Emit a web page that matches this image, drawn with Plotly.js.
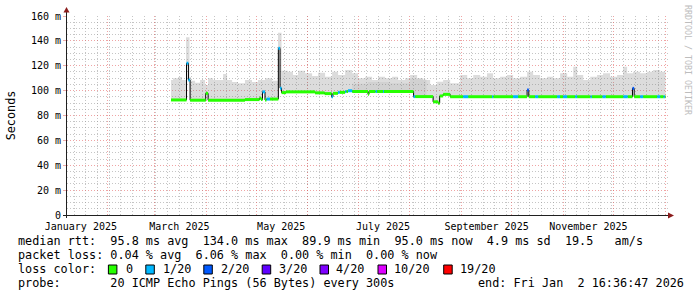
<!DOCTYPE html>
<html><head><meta charset="utf-8">
<script src="https://cdn.plot.ly/plotly-3.0.1.min.js"></script>
<style>html,body{margin:0;padding:0;background:#fff;}#chart{width:697px;height:297px;}</style>
</head><body><div id="chart"></div>
<script>
// ---- median RTT (ms) at change points, with lost pings out of 20 ----
const medianTimes = [
 '2025-03-11 00:00','2025-03-20 07:00','2025-03-21 10:00','2025-03-22 10:00','2025-03-31 19:00','2025-04-02 05:00',
 '2025-04-24 07:00','2025-05-03 00:00','2025-05-03 22:00','2025-05-04 19:00','2025-05-06 07:00','2025-05-07 05:00',
 '2025-05-09 07:00','2025-05-14 07:00','2025-05-15 07:00','2025-05-16 05:00','2025-05-18 22:00','2025-06-05 07:00',
 '2025-06-11 00:00','2025-06-15 05:00','2025-06-16 00:00','2025-06-19 00:00','2025-06-20 00:00','2025-06-23 07:00',
 '2025-06-24 00:00','2025-06-25 00:00','2025-06-27 12:00','2025-07-07 00:00','2025-07-07 14:00','2025-07-11 14:00',
 '2025-07-12 10:00','2025-07-16 00:00','2025-07-16 14:00','2025-08-03 07:00','2025-08-04 05:00','2025-08-15 00:00',
 '2025-08-18 00:00','2025-08-18 22:00','2025-08-21 00:00','2025-08-25 05:00','2025-09-02 00:00','2025-09-05 00:00',
 '2025-09-19 07:00','2025-09-20 00:00','2025-10-01 22:00','2025-10-04 22:00','2025-10-10 07:00','2025-10-11 07:00',
 '2025-10-15 02:00','2025-10-16 22:00','2025-10-28 07:00','2025-10-30 00:00','2025-10-31 22:00','2025-11-03 07:00',
 '2025-11-08 02:00','2025-11-09 07:00','2025-11-17 07:00','2025-11-18 02:00','2025-11-24 12:00','2025-11-26 10:00',
 '2025-12-07 00:00','2025-12-09 12:00','2025-12-12 10:00','2025-12-13 10:00','2025-12-17 00:00','2025-12-18 19:00',
 '2025-12-27 05:00','2025-12-29 00:00','2025-12-31 02:00','2025-12-31 20:00','2026-01-01 05:00'];
const medianMs = [
 92.5,122.0,108.5,92.3,97.8,92.3,
 92.8,94.0,92.8,99.0,92.5,93.2,
 93.2,134.0,102.0,98.4,99.0,98.2,
 97.6,95.0,97.8,98.6,98.6,99.3,
 99.3,99.9,99.3,97.0,99.3,99.3,
 99.3,99.3,99.3,95.2,95.2,91.0,
 89.9,95.7,97.0,95.1,95.1,95.1,
 95.1,95.1,95.1,95.1,100.5,95.1,
 95.1,95.1,95.1,95.1,95.1,95.1,
 95.1,95.1,95.1,95.1,95.1,95.1,
 95.1,95.1,101.8,95.1,95.1,95.1,
 95.1,95.1,95.0,95.0,95.0];
const medianLoss = [
 0,1,1,0,0,0,
 0,0,0,1,0,1,
 0,1,1,0,0,0,
 0,1,0,1,0,1,
 0,1,0,0,0,1,
 0,1,0,1,0,0,
 0,0,0,0,1,0,
 1,0,1,0,2,0,
 1,0,1,0,1,0,
 1,0,1,0,1,0,
 1,0,2,0,1,0,
 1,0,1,0,0];

// ---- smoke (spread of the 20 pings): upper edge, ms ----
const smokeTimes = [
 '2025-03-11 00:00','2025-03-12 05:00','2025-03-15 05:00','2025-03-17 14:00','2025-03-20 00:00','2025-03-22 02:00',
 '2025-03-23 00:00','2025-03-25 10:00','2025-03-28 10:00','2025-03-31 10:00','2025-04-02 05:00','2025-04-05 05:00',
 '2025-04-11 05:00','2025-04-13 14:00','2025-04-16 14:00','2025-04-20 02:00','2025-04-24 07:00','2025-04-28 12:00',
 '2025-05-02 02:00','2025-05-06 07:00','2025-05-10 12:00','2025-05-14 02:00','2025-05-16 05:00','2025-05-20 02:00',
 '2025-05-23 02:00','2025-05-26 02:00','2025-05-30 07:00','2025-06-03 12:00','2025-06-07 02:00','2025-06-11 07:00',
 '2025-06-15 12:00','2025-06-19 02:00','2025-06-23 07:00','2025-06-27 12:00','2025-07-01 02:00','2025-07-05 07:00',
 '2025-07-09 10:00','2025-07-13 00:00','2025-07-17 05:00','2025-07-21 10:00','2025-07-25 00:00','2025-07-29 05:00',
 '2025-08-01 05:00','2025-08-05 10:00','2025-08-09 00:00','2025-08-13 05:00','2025-08-17 10:00','2025-08-21 00:00',
 '2025-08-25 05:00','2025-08-31 05:00','2025-09-04 10:00','2025-09-08 00:00','2025-09-12 05:00','2025-09-16 07:00',
 '2025-09-19 22:00','2025-09-24 02:00','2025-09-28 07:00','2025-10-01 22:00','2025-10-06 02:00','2025-10-10 07:00',
 '2025-10-13 22:00','2025-10-18 02:00','2025-10-22 07:00','2025-10-25 22:00','2025-10-30 02:00','2025-11-03 07:00',
 '2025-11-06 22:00','2025-11-09 07:00','2025-11-12 22:00','2025-11-17 02:00','2025-11-21 05:00','2025-11-24 19:00',
 '2025-11-29 00:00','2025-12-03 05:00','2025-12-06 19:00','2025-12-09 05:00','2025-12-12 19:00','2025-12-17 00:00',
 '2025-12-21 05:00','2025-12-24 19:00','2025-12-29 00:00','2026-01-01 05:00'];
const smokeTopMs = [
 108.5,110.0,111.0,108.5,143.0,111.0,
 108.0,106.4,108.5,104.5,110.0,108.5,
 113.4,108.5,107.0,105.9,108.5,107.0,
 108.5,110.0,108.0,146.6,116.0,115.2,
 112.6,116.0,114.0,111.8,114.4,111.2,
 115.2,112.6,116.6,114.0,110.0,111.2,
 108.5,111.2,110.0,111.2,108.5,110.0,
 112.6,110.0,108.5,104.5,107.2,108.5,
 105.9,112.6,110.0,112.6,111.2,113.9,
 110.0,111.2,112.6,110.0,111.2,115.2,
 112.6,110.0,111.2,110.0,113.9,111.2,
 119.2,112.6,108.5,111.2,112.6,113.9,
 111.2,112.6,119.2,113.9,115.2,113.9,
 115.2,116.6,115.2,115.2];

// ---- denser core of the smoke (summer) ----
const coreTimes = ['2025-06-27 12:00','2025-07-07 00:00','2025-07-20 00:00','2025-08-01 05:00','2025-08-03 07:00','2025-08-11 00:00'];
const coreLowMs = [99.3,99.3,99.3,99.3,95.2,95.2];
const coreHighMs = [105.5,107.0,106.0,109.5,109.5,109.5];

// ---- axes ----
const monthStarts = ['2025-02-01','2025-03-01','2025-04-01','2025-05-01','2025-06-01','2025-07-01',
 '2025-08-01','2025-09-01','2025-10-01','2025-11-01','2025-12-01','2026-01-01'];
const xLabelTimes = ['2025-01-16','2025-03-16','2025-05-16','2025-07-16','2025-09-16','2025-11-16'];
const xLabelTexts = ['January 2025','March 2025','May 2025','July 2025','September 2025','November 2025'];
const yTickVals = [0,20,40,60,80,100,120,140,160];
const yTickTexts = ['0','20 m','40 m','60 m','80 m','100 m','120 m','140 m','160 m'];

// ---- loss legend ----
const lossLevels = [0,1,2,3,4,10,19];
const lossLabels = ['0','1/20','2/20','3/20','4/20','10/20','19/20'];
const lossColors = ['#26ff00','#00b8ff','#0059ff','#5e00ff','#7e00ff','#dd00ff','#ff0000'];

const statLine1 = 'median rtt:  95.8 ms avg  134.0 ms max  89.9 ms min  95.0 ms now  4.9 ms sd  19.5   am/s';
const statLine2 = 'packet loss: 0.04 % avg  6.06 % max  0.00 % min  0.00 % now';
const probeLine = 'probe:       20 ICMP Echo Pings (56 Bytes) every 300s';
const endLine = 'end: Fri Jan  2 16:36:47 2026';

// ---------------------------------------------------------------
const xRange = ['2025-01-07 16:36:47','2026-01-02 16:36:47'];
const ML = 67, MT = 16, PW = 601, PH = 199;
const px = v => (v - ML) / PW;
const py = v => (MT + PH - v) / PH;
const nb = s => s.replace(/ /g, '\u00a0');
const MONO = 'DejaVu Sans Mono';

const traces = [];
traces.push({x: medianTimes, y: medianMs, mode: 'lines', line: {width: 0, shape: 'hv'}, hoverinfo: 'skip'});
traces.push({x: smokeTimes, y: smokeTopMs, mode: 'lines', line: {width: 0, shape: 'hv'},
  fill: 'tonexty', fillcolor: 'rgba(120,120,120,0.26)', hoverinfo: 'skip'});
traces.push({x: coreTimes, y: coreLowMs, mode: 'lines', line: {width: 0, shape: 'hv'}, hoverinfo: 'skip'});
traces.push({x: coreTimes, y: coreHighMs, mode: 'lines', line: {width: 0, shape: 'hv'},
  fill: 'tonexty', fillcolor: 'rgba(120,120,120,0.10)', hoverinfo: 'skip'});
traces.push({x: medianTimes, y: medianMs, mode: 'lines', line: {color: '#000000', width: 1, shape: 'hv'}, hoverinfo: 'skip'});
// loss-coloured median segments live on the overlaying label axis (same range), drawn on top
lossLevels.forEach((lv, k) => {
  const xs = [], ys = [];
  for (let i = 0; i < medianTimes.length - 1; i++) {
    if (medianLoss[i] === lv) {
      xs.push(medianTimes[i], medianTimes[i + 1], null);
      ys.push(medianMs[i], medianMs[i], null);
    }
  }
  if (xs.length) traces.push({x: xs, y: ys, xaxis: 'x2', yaxis: 'y', mode: 'lines',
    line: {color: lossColors[k], width: 3}, hoverinfo: 'skip'});
});

// minor grid positions
const weekly = [];
for (let d = Date.UTC(2025, 0, 12); d < Date.UTC(2026, 0, 2); d += 7 * 86400000) {
  weekly.push(new Date(d).toISOString().slice(0, 10));
}
const fives = [];
for (let v = 0; v <= 160; v += 5) if (v % 20) fives.push(v);

const majorGrid = 'rgba(225,90,90,0.55)';
const minorGrid = 'rgba(150,150,150,0.55)';

const shapes = [];
const annotations = [];
shapes.push({type: 'line', xref: 'paper', yref: 'paper', x0: px(63), x1: px(669), y0: py(215.5), y1: py(215.5), line: {color: '#202020', width: 1}});
shapes.push({type: 'line', xref: 'paper', yref: 'paper', x0: px(66.5), x1: px(66.5), y0: py(218), y1: py(12), line: {color: '#202020', width: 1}});
shapes.push({type: 'path', xref: 'paper', yref: 'paper',
  path: `M ${px(668)} ${py(212.5)} L ${px(674)} ${py(215.5)} L ${px(668)} ${py(218.5)} Z`, fillcolor: '#8b1c1c', line: {width: 0}});
shapes.push({type: 'path', xref: 'paper', yref: 'paper',
  path: `M ${px(63.5)} ${py(12.5)} L ${px(66.5)} ${py(7)} L ${px(69.5)} ${py(12.5)} Z`, fillcolor: '#8b1c1c', line: {width: 0}});

const lf = {family: MONO, size: 11.8, color: '#000'};
const addText = (txt, x, y, anchor) => annotations.push({text: nb(txt), xref: 'paper', yref: 'paper',
  x: px(x), y: py(y), xanchor: anchor || 'left', yanchor: 'middle', showarrow: false, font: lf});
addText(statLine1, 16, 241);
addText(statLine2, 16, 255);
addText('loss color:', 16, 269);
const boxX = [108.4, 145.8, 203.8, 262.2, 320, 378, 443.7];
const labX = [123.5, 160.5, 218.5, 276.5, 334.4, 392.4, 458];
lossLabels.forEach((lab, k) => {
  shapes.push({type: 'rect', xref: 'paper', yref: 'paper', x0: px(boxX[k]), x1: px(boxX[k] + 8.5),
    y0: py(274), y1: py(265), fillcolor: lossColors[k], line: {color: '#000', width: 1}});
  addText(lab, labX[k], 269);
});
addText(probeLine, 16, 283);
addText(endLine, 686, 283, 'right');
annotations.push({text: 'RRDTOOL / TOBI OETIKER', xref: 'paper', yref: 'paper', x: px(688), y: py(60),
  xanchor: 'center', yanchor: 'middle', textangle: 90, showarrow: false,
  font: {family: MONO, size: 8.3, color: '#bdbdbd'}});

const layout = {
  width: 697, height: 297,
  margin: {l: ML, r: 697 - ML - PW, t: MT, b: 297 - MT - PH, pad: 0},
  paper_bgcolor: '#ffffff', plot_bgcolor: '#ffffff',
  showlegend: false, hovermode: false,
  xaxis: {type: 'date', range: xRange, tickmode: 'array', tickvals: monthStarts, showticklabels: false,
    ticks: '', showgrid: true, gridcolor: majorGrid, griddash: '1px,2px', gridwidth: 1, zeroline: false, showline: false,
    minor: {tickmode: 'array', tickvals: weekly, showgrid: true, gridcolor: minorGrid, griddash: '1px,2px', gridwidth: 1, ticks: ''}},
  xaxis2: {type: 'date', range: xRange, overlaying: 'x', anchor: 'y', side: 'bottom', tickmode: 'array',
    tickvals: xLabelTimes, ticktext: xLabelTexts, showgrid: false, zeroline: false, showline: false,
    ticks: 'outside', ticklen: 2, tickcolor: 'rgba(0,0,0,0)', tickfont: {family: MONO, size: 10, color: '#000'}},
  yaxis: {range: [0, 160], tickmode: 'array', tickvals: yTickVals, ticktext: yTickTexts,
    showgrid: true, gridcolor: majorGrid, griddash: '1px,2px', gridwidth: 1, zeroline: false, showline: false,
    ticks: 'outside', ticklen: 3, tickcolor: 'rgba(225,90,90,0.5)', tickfont: {family: MONO, size: 10, color: '#000'},
    title: {text: 'Seconds', font: {family: MONO, size: 11.8, color: '#000'}, standoff: 12},
    minor: {tickmode: 'array', tickvals: fives, showgrid: true, gridcolor: minorGrid, griddash: '1px,2px', gridwidth: 1, ticks: ''}},
  shapes: shapes,
  annotations: annotations
};
Plotly.newPlot('chart', traces, layout, {staticPlot: true, displayModeBar: false});
</script></body></html>
